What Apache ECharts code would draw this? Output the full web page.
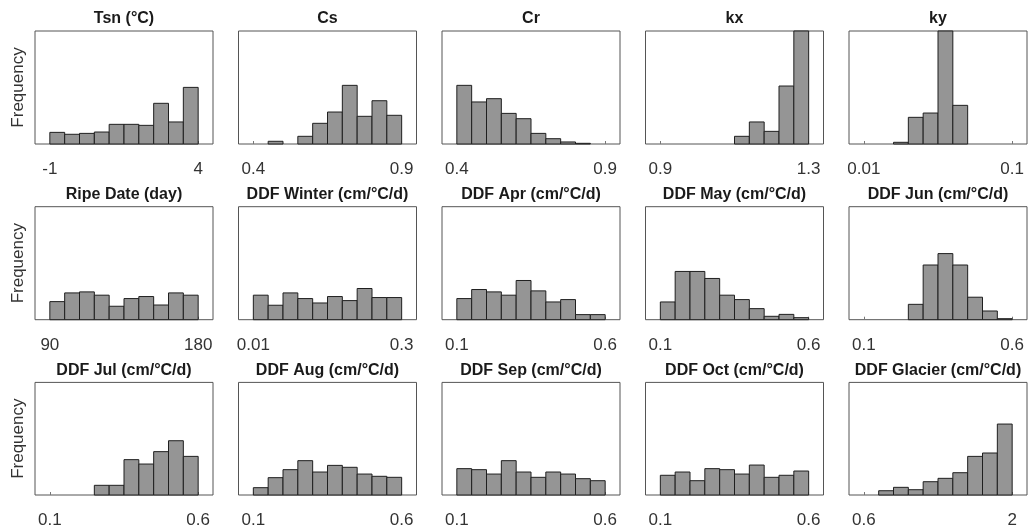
<!DOCTYPE html>
<html>
<head>
<meta charset="utf-8">
<script src="https://cdn.jsdelivr.net/npm/echarts@6/dist/echarts.min.js"></script>
<style>
  html, body { margin: 0; padding: 0; background: #fff; }
  #main { width: 1028px; height: 529px; }
</style>
</head>
<body>
<div id="main"></div>
<script>
// Panel titles, row by row
const panelTitles = [
  "Tsn (°C)", "Cs", "Cr", "kx", "ky",
  "Ripe Date (day)", "DDF Winter (cm/°C/d)", "DDF Apr (cm/°C/d)", "DDF May (cm/°C/d)", "DDF Jun (cm/°C/d)",
  "DDF Jul (cm/°C/d)", "DDF Aug (cm/°C/d)", "DDF Sep (cm/°C/d)", "DDF Oct (cm/°C/d)", "DDF Glacier (cm/°C/d)"
];

// Parameter range (first and last bin edge, also the two tick labels)
const rangeLo = [-1, 0.4, 0.4, 0.9, 0.01, 90, 0.01, 0.1, 0.1, 0.1, 0.1, 0.1, 0.1, 0.1, 0.6];
const rangeHi = [4, 0.9, 0.9, 1.3, 0.1, 180, 0.3, 0.6, 0.6, 0.6, 0.6, 0.6, 0.6, 0.6, 2];

// Bin frequencies (10 bins each, y axis fixed to 0..100)
const tsnCounts = [10.3, 8.6, 9.4, 10.6, 17.4, 17.4, 16.5, 36, 19.5, 50.1];
const csCounts = [0, 2.4, 0, 6.8, 18.3, 28.3, 51.9, 24.5, 38.3, 25.4];
const crCounts = [51.9, 37.2, 40.1, 27.1, 22.4, 9.4, 4.7, 1.8, 0.6, 0];
const kxCounts = [0, 0, 0, 0, 0, 6.8, 19.5, 11.2, 51.3, 130];
const kyCounts = [0, 0, 1.5, 23.6, 27.4, 130, 34.2, 0, 0, 0];
const ripeCounts = [16, 23.7, 24.6, 21.7, 11.9, 18.7, 20.5, 13, 23.7, 21.7];
const winterCounts = [21.7, 12.8, 23.7, 18.7, 14.8, 20.5, 16.9, 27.6, 19.6, 19.6];
const aprCounts = [18.7, 26.7, 24.6, 21.7, 34.7, 25.5, 15.7, 17.8, 4.5, 4.5];
const mayCounts = [15.7, 42.7, 42.7, 36.5, 21.7, 17.8, 9.8, 3, 4.7, 1.8];
const junCounts = [0, 0, 0, 13.6, 48.4, 58.5, 48.4, 19.9, 7.7, 0.9];
const julCounts = [0, 0, 0, 8.6, 8.6, 31.4, 27.5, 38.5, 48.2, 34.3];
const augCounts = [6.5, 15.4, 22.5, 30.5, 20.4, 26.3, 24.6, 18.6, 16.6, 15.7];
const sepCounts = [23.4, 22.5, 18.6, 30.5, 20.4, 15.7, 20.4, 18.6, 14.5, 12.7];
const octCounts = [17.5, 20.4, 12.7, 23.4, 22.5, 18.6, 26.6, 15.7, 17.5, 21.3];
const glacierCounts = [0, 3.8, 6.8, 4.7, 11.8, 14.8, 19.8, 34.3, 37.3, 63];

const panelCounts = [
  tsnCounts, csCounts, crCounts, kxCounts, kyCounts,
  ripeCounts, winterCounts, aprCounts, mayCounts, junCounts,
  julCounts, augCounts, sepCounts, octCounts, glacierCounts
];

// Layout
const COLS = 5;
const LEFT0 = 35, PITCH_X = 203.5, W = 178;
const TOP0 = 31, PITCH_Y = 175.7, H = 113;
const FONT = "Liberation Sans, Arial, Helvetica, sans-serif";

function renderBin(params, api) {
  const v = api.value(2);
  if (!v) return;
  const p0 = api.coord([api.value(0), v]);
  const p1 = api.coord([api.value(1), 0]);
  const cs = params.coordSys;
  const shape = echarts.graphic.clipRectByRect(
    { x: p0[0], y: p0[1], width: p1[0] - p0[0], height: p1[1] - p0[1] },
    { x: cs.x, y: cs.y, width: cs.width, height: cs.height }
  );
  if (!shape) return;
  return {
    type: "rect",
    shape: shape,
    style: { fill: "#959595", stroke: "#1f1f1f", lineWidth: 1 }
  };
}

const grid = [], xAxis = [], yAxis = [], series = [], title = [];

panelTitles.forEach((name, i) => {
  const col = i % COLS, row = Math.floor(i / COLS);
  const left = LEFT0 + col * PITCH_X;
  const top = TOP0 + row * PITCH_Y;
  const lo = rangeLo[i], hi = rangeHi[i];
  const pad = (hi - lo) * 0.1;
  const binW = (hi - lo) / panelCounts[i].length;

  grid.push({
    left: left, top: top, width: W, height: H,
    show: true, borderColor: "#555", borderWidth: 1, backgroundColor: "#fff"
  });

  title.push({
    text: name,
    left: left + W / 2,
    top: top - 20,
    textAlign: "center",
    padding: 0,
    textStyle: { fontFamily: FONT, fontSize: 16, fontWeight: "bold", color: "#1a1a1a" }
  });

  xAxis.push({
    type: "value", gridIndex: i,
    min: lo - pad, max: hi + pad,
    splitLine: { show: false },
    axisLine: { show: false },
    axisTick: { show: true, inside: true, length: 3, customValues: [lo, hi], lineStyle: { color: "#777" } },
    axisLabel: {
      customValues: [lo, hi], margin: 17,
      fontFamily: FONT, fontSize: 17, color: "#333",
      formatter: (val) => String(val)
    }
  });

  yAxis.push({
    type: "value", gridIndex: i, min: 0, max: 100,
    splitLine: { show: false },
    axisLine: { show: false },
    axisTick: { show: false },
    axisLabel: { show: false },
    name: col === 0 ? "Frequency" : "",
    nameLocation: "middle",
    nameGap: 8,
    nameTextStyle: { fontFamily: FONT, fontSize: 17, color: "#333" }
  });

  series.push({
    type: "custom",
    xAxisIndex: i, yAxisIndex: i,
    renderItem: renderBin,
    encode: { x: [0, 1], y: 2 },
    silent: true,
    data: panelCounts[i].map((c, k) => [lo + k * binW, lo + (k + 1) * binW, c])
  });
});

const chart = echarts.init(document.getElementById("main"));
chart.setOption({
  animation: false,
  backgroundColor: "#fff",
  title: title,
  grid: grid,
  xAxis: xAxis,
  yAxis: yAxis,
  series: series
});
</script>
</body>
</html>
